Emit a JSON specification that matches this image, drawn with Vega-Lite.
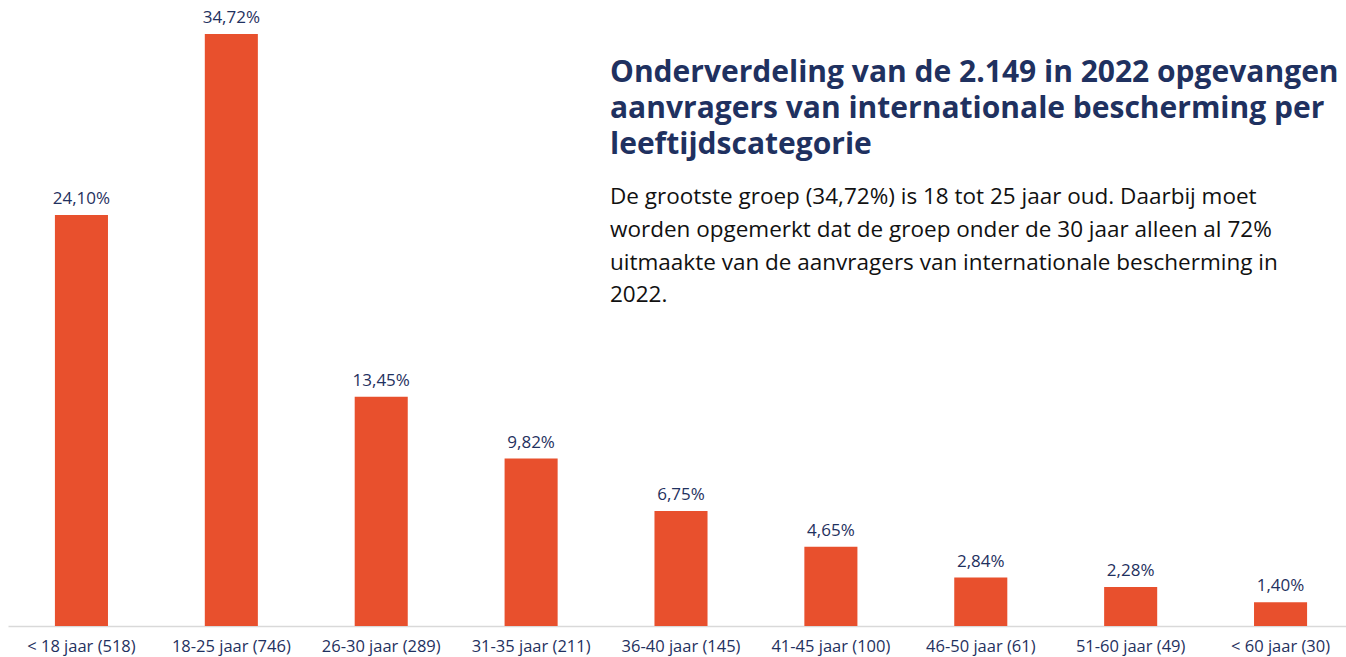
{
  "$schema": "https://vega.github.io/schema/vega-lite/v6.json",
  "width": 1346,
  "height": 626,
  "autosize": {"type": "none"},
  "padding": {"left": 8, "top": 0, "right": 0, "bottom": 31},
  "background": "white",
  "title": {
    "text": ["Onderverdeling van de 2.149 in 2022 opgevangen", "aanvragers van internationale bescherming per", "leeftijdscategorie"],
    "subtitle": ["De grootste groep (34,72%) is 18 tot 25 jaar oud. Daarbij moet", "worden opgemerkt dat de groep onder de 30 jaar alleen al 72%", "uitmaakte van de aanvragers van internationale bescherming in", "2022."],
    "anchor": "start",
    "frame": "group",
    "orient": "top",
    "baseline": "top",
    "dx": 602,
    "dy": 311,
    "font": "Open Sans",
    "fontSize": 30,
    "fontWeight": "bold",
    "color": "#1f3160",
    "lineHeight": 36,
    "subtitleFont": "Open Sans",
    "subtitleFontSize": 22.5,
    "subtitleColor": "#111111",
    "subtitleLineHeight": 32.7,
    "subtitlePadding": 26
  },
  "data": {
    "values": [
      {"cat": "< 18 jaar (518)", "pct": 24.10, "label": "24,10%"},
      {"cat": "18-25 jaar (746)", "pct": 34.72, "label": "34,72%"},
      {"cat": "26-30 jaar (289)", "pct": 13.45, "label": "13,45%"},
      {"cat": "31-35 jaar (211)", "pct": 9.82, "label": "9,82%"},
      {"cat": "36-40 jaar (145)", "pct": 6.75, "label": "6,75%"},
      {"cat": "41-45 jaar (100)", "pct": 4.65, "label": "4,65%"},
      {"cat": "46-50 jaar (61)", "pct": 2.84, "label": "2,84%"},
      {"cat": "51-60 jaar (49)", "pct": 2.28, "label": "2,28%"},
      {"cat": "< 60 jaar (30)", "pct": 1.40, "label": "1,40%"}
    ]
  },
  "encoding": {
    "x": {
      "field": "cat",
      "type": "nominal",
      "sort": null,
      "scale": {"paddingInner": 0.646, "paddingOuter": 0.313},
      "axis": {
        "title": null,
        "labelAngle": 0,
        "ticks": false,
        "domainColor": "#d9d9d9",
        "domainWidth": 1.5,
        "labelFont": "Open Sans",
        "labelFontSize": 16.5,
        "labelColor": "#1f3160",
        "labelPadding": 12,
        "grid": false
      }
    },
    "y": {
      "field": "pct",
      "type": "quantitative",
      "scale": {"domain": [0, 36.71], "nice": false},
      "axis": null
    }
  },
  "layer": [
    {"mark": {"type": "bar", "color": "#e8502d"}},
    {
      "mark": {"type": "text", "dy": -16, "font": "Open Sans", "fontSize": 17, "color": "#1f3160"},
      "encoding": {"text": {"field": "label"}}
    }
  ],
  "config": {"view": {"stroke": null}}
}
